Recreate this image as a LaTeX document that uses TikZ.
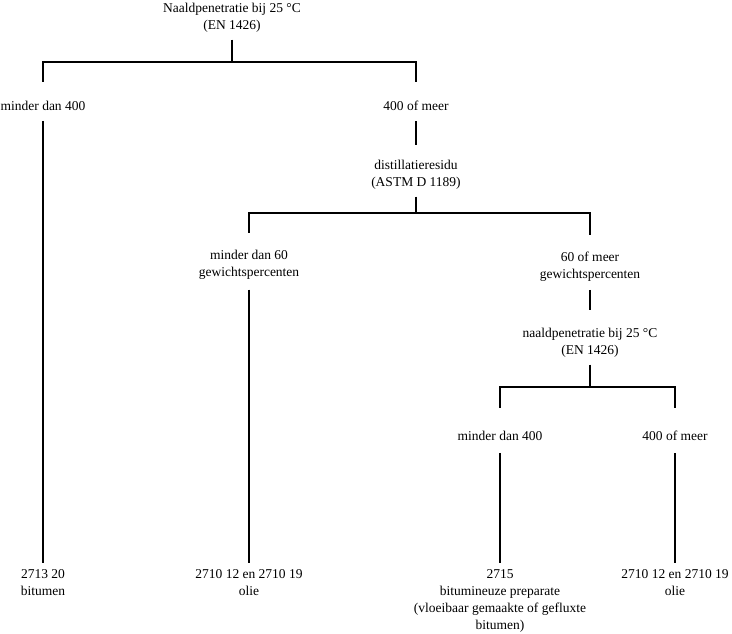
\documentclass[tikz,border=0pt]{standalone}
\usepackage{fontspec}
\setmainfont{Liberation Serif}
\begin{document}
\begin{tikzpicture}[x=1pt,y=-1pt,
    txt/.style={align=center,inner sep=0pt,anchor=north,
      font=\fontsize{13.5}{17}\selectfont},
    link/.style={line width=1.6pt}]
  \useasboundingbox (0,0) rectangle (732,633);
  \def\fork(#1)(#2)(#3)(#4)#5{
    \draw[link,shorten <=7pt] (#1) -- (#2);
    \draw[link,shorten >=#5] (#2) -| (#3);
    \draw[link,shorten >=#5] (#2) -| (#4);
  }

  \node[txt] (top) at (232,3) {Naaldpenetratie bij 25 °C\\(EN 1426)};
  \node[txt] (lowpen) at (43,101) {minder dan 400};
  \node[txt] (highpen) at (416,101) {400 of meer};
  \node[txt] (resid) at (416,160) {distillatieresidu\\(ASTM D 1189)};
  \node[txt] (lowres) at (249,250) {minder dan 60\\gewichtspercenten};
  \node[txt] (highres) at (590,252) {60 of meer\\gewichtspercenten};
  \node[txt] (pen2) at (590,328) {naaldpenetratie bij 25 °C\\(EN 1426)};
  \node[txt] (lowpen2) at (500,431) {minder dan 400};
  \node[txt] (highpen2) at (675,431) {400 of meer};

  \node[txt] (bitumen) at (43,569) {2713 20\\bitumen};
  \node[txt] (olie1) at (249,569) {2710 12 en 2710 19\\olie};
  \node[txt] (prep) at (500,569) {2715\\bitumineuze preparate\\(vloeibaar gemaakte of gefluxte\\bitumen)};
  \node[txt] (olie2) at (675,569) {2710 12 en 2710 19\\olie};

  \coordinate (j0) at (232,62);
  \coordinate (j1) at (416,213);
  \coordinate (j2) at (590,387);

  \fork(top)(j0)(lowpen)(highpen){19pt}
  \fork(resid)(j1)(lowres)(highres){17pt}
  \fork(pen2)(j2)(lowpen2)(highpen2){23pt}

  \draw[link,shorten <=10pt,shorten >=6pt] (lowpen) -- (bitumen);
  \draw[link,shorten <=10pt,shorten >=15pt] (highpen) -- (resid);
  \draw[link,shorten <=10pt,shorten >=6pt] (lowres) -- (olie1);
  \draw[link,shorten <=8pt,shorten >=18pt] (highres) -- (pen2);
  \draw[link,shorten <=12pt,shorten >=6pt] (lowpen2) -- (prep);
  \draw[link,shorten <=12pt,shorten >=6pt] (highpen2) -- (olie2);
\end{tikzpicture}
\end{document}
